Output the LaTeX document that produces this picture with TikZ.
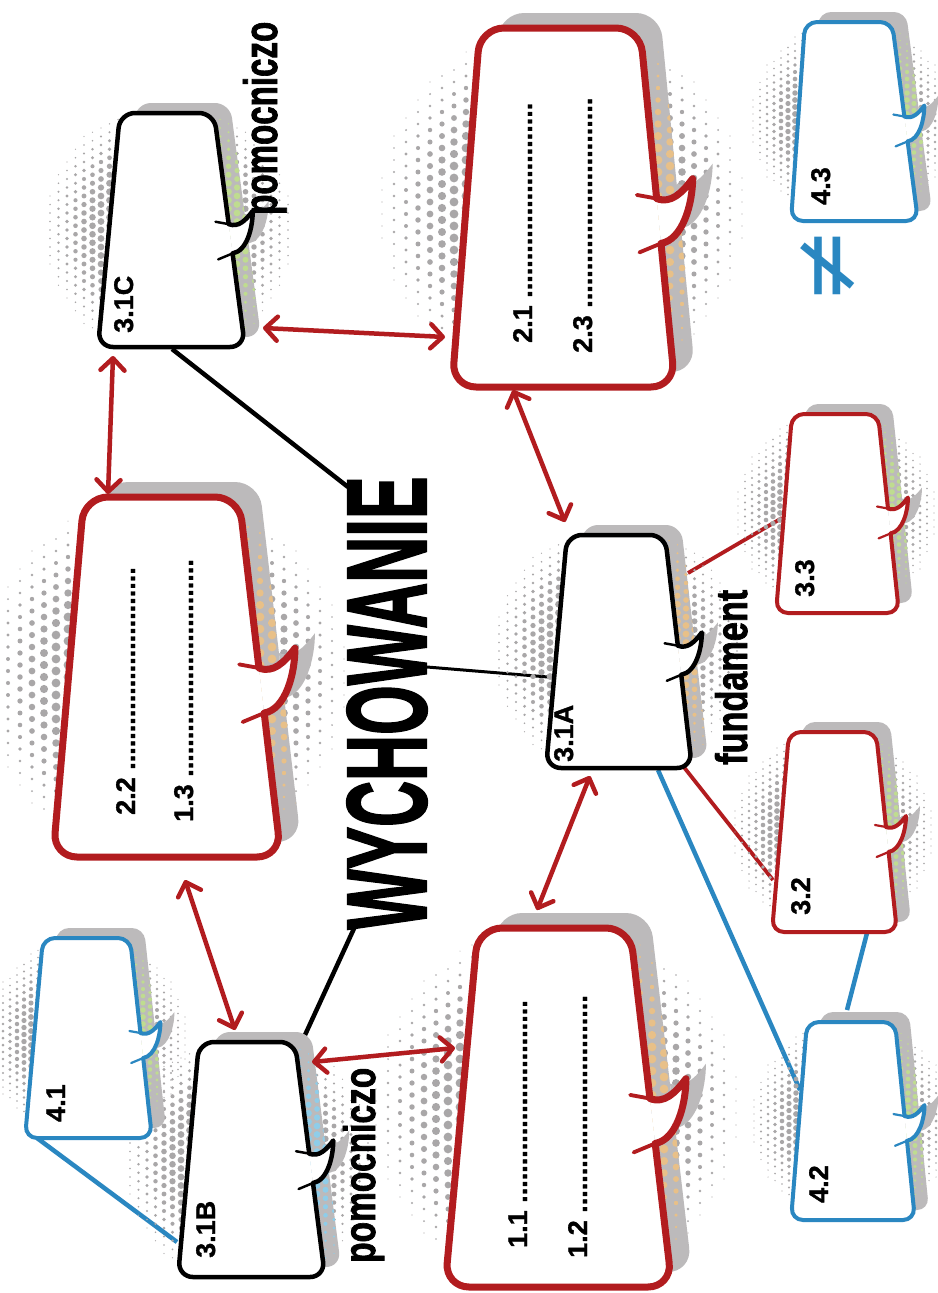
\documentclass[tikz,border=0pt]{standalone}
\usepackage{fontspec}
\usepackage{graphicx}
\setmainfont{Liberation Sans}
\newfontfamily\labfont{Liberation Sans}[FakeBold=1.2]
\newfontfamily\heavyfont{Liberation Sans}[FakeBold=2]
\newfontfamily\symfont{DejaVu Sans}
\usetikzlibrary{calc,arrows.meta}
\definecolor{myred}{HTML}{B21C1F}
\definecolor{myblue}{HTML}{2A87C1}
\definecolor{shadowc}{HTML}{BCBABB}
\definecolor{dotg}{HTML}{A9A7A8}
\definecolor{dotor}{HTML}{E8C088}
\definecolor{dotgr}{HTML}{BFDC90}
\definecolor{dotbl}{HTML}{8FCDE9}

% halftone dot field: cx cy R R0 spacing rmax color ilist skip
\newcommand\halftone[9]{%
  \begin{pgfscope}%
  \pgfsetfillcolor{#7}%
  \foreach \i in {#8}{%
    \foreach \j in {-15,...,15}{%
      \pgfmathsetmacro\htX{#5*\i}%
      \pgfmathsetmacro\htY{#5*\j+#5*0.5*mod(abs(\i),2)}%
      \pgfmathsetmacro\htR{abs(\htX)<#9 ? 0 : min(#6,#6*(#3-veclen(\htX,\htY))/(#3-#4))}%
      \ifdim\htR pt>0.5pt
        \pgfpathcircle{\pgfpointxy{#1+\htX}{#2+\htY}}{\htR pt}%
      \fi
    }%
  }%
  \pgfusepath{fill}%
  \end{pgfscope}%
}
\newcommand\htbig[4]{\halftone{#1}{#2}{192}{115}{12}{4.4}{#3}{#4}{75}}
\newcommand\htmed[4]{\halftone{#1}{#2}{135}{75}{8.5}{3.4}{#3}{#4}{45}}
\newcommand\htsmall[4]{\halftone{#1}{#2}{110}{60}{7}{2.9}{#3}{#4}{38}}

% bubble geometry: name TL TR BR BL scale shadowshift
\newcommand\setbubble[7]{%
  \coordinate (#1-tl) at #2;
  \coordinate (#1-tr) at #3;
  \coordinate (#1-br) at #4;
  \coordinate (#1-bl) at #5;
  \coordinate (#1-u) at ($(#1-tr)!0.475!(#1-br)$);
  \coordinate (#1-l) at ($(#1-tr)!0.6!(#1-br)$);
  \coordinate (#1-tip) at ($(#1-u)+(20*#6,-11*#6)$);
  \coordinate (#1-iu) at ($(#1-u)+(-11*#6,-2*#6)$);
  \coordinate (#1-il) at ($(#1-l)+(-12*#6,5*#6)$);
  \foreach \p in {tl,tr,br,bl,u,l,tip}{\coordinate (#1-s\p) at ($(#1-\p)+#7$);}
}
% name color lw radius scale dotcommand
\newcommand\drawbubble[6]{%
  \fill[shadowc, rounded corners=#4] (#1-stl) -- (#1-str) -- (#1-sbr) -- (#1-sbl) -- cycle;
  \fill[shadowc] (#1-su) .. controls +(8*#5,3*#5) and +(-6*#5,8*#5) .. (#1-stip)
     .. controls +(0,14*#5) and +(12*#5,-2*#5) .. (#1-sl) -- cycle;
  \begin{scope}
    \clip[rounded corners=#4] (#1-stl) -- (#1-str) -- (#1-sbr) -- (#1-sbl) -- cycle;
    #6
  \end{scope}
  \fill[white, rounded corners=#4] (#1-tl) -- (#1-tr) -- (#1-br) -- (#1-bl) -- cycle;
  \fill[white] (#1-u) .. controls +(8*#5,3*#5) and +(-6*#5,8*#5) .. (#1-tip)
     .. controls +(0,14*#5) and +(12*#5,-2*#5) .. (#1-l) -- cycle;
  \draw[#2, line width=#3, rounded corners=#4] (#1-l) -- (#1-br) -- (#1-bl) -- (#1-tl) -- (#1-tr) -- (#1-u);
  \draw[#2, line width=#3, line cap=round, line join=round] (#1-u) .. controls +(8*#5,3*#5) and +(-6*#5,8*#5) .. (#1-tip)
     .. controls +(0,14*#5) and +(12*#5,-2*#5) .. (#1-l);
  \draw[#2, line width=0.55*#3, line cap=round] (#1-u) -- (#1-iu);
  \draw[#2, line width=0.55*#3, line cap=round] (#1-l) -- (#1-il);
}

\begin{document}
\begin{tikzpicture}[x=1pt,y=-1pt,
  lab/.style={rotate=90,anchor=base west,inner sep=0pt,font=\labfont\bfseries\fontsize{27}{27}\selectfont},
  cond/.style={rotate=90,anchor=base west,inner sep=0pt,font=\heavyfont\bfseries},
  dbl/.style={myred,line width=4.5,line cap=round,{Straight Barb[length=12pt,width=24pt,round]}-{Straight Barb[length=12pt,width=24pt,round]}},
  blk/.style={black,line width=4.5},
  blkthin/.style={black,line width=3},
  redln/.style={myred,line width=3.8},
  blueln/.style={myblue,line width=4.5}]
\useasboundingbox (0,0) rectangle (937,1293);
\fill[white] (0,0) rectangle (937,1293);

% geometry
\setbubble{b21}{(480,28)}{(640,28)}{(675,387)}{(452,387)}{1.8}{(20,-15)}
\setbubble{b22}{(84,497)}{(239,497)}{(281,857)}{(53,857)}{1.8}{(20,-15)}
\setbubble{b11}{(478,928)}{(630,928)}{(672,1287)}{(445,1287)}{1.8}{(20,-15)}
\setbubble{bA}{(567,535)}{(665,535)}{(692,768)}{(546,768)}{1.2}{(16,-10)}
\setbubble{bB}{(199,1042)}{(295,1042)}{(325,1277)}{(178,1277)}{1.2}{(16,-10)}
\setbubble{bC}{(120,113)}{(214,113)}{(245,347)}{(98,347)}{1.2}{(16,-10)}
\setbubble{b43}{(805,22)}{(892,22)}{(918,221)}{(791,221)}{1}{(14,-10)}
\setbubble{b33}{(792,414)}{(878,414)}{(899,613)}{(776,613)}{1}{(14,-10)}
\setbubble{b32}{(789,732)}{(876,732)}{(897,932)}{(772,932)}{1}{(14,-10)}
\setbubble{b42}{(807,1022)}{(895,1022)}{(915,1220)}{(791,1220)}{1}{(14,-10)}
\setbubble{b41}{(43,938)}{(130,938)}{(152,1138)}{(25,1138)}{1}{(14,-10)}

% connector end points
\coordinate (k1s) at (172,349); \coordinate (k1e) at (348,487);
\coordinate (k2s) at (427,667); \coordinate (k2e) at (548,677);
\coordinate (k3s) at (357,922); \coordinate (k3e) at (305,1035);
\coordinate (r1s) at (688,573); \coordinate (r1e) at (782,518);
\coordinate (r2s) at (683,766); \coordinate (r2e) at (773,880);
\coordinate (u1s) at (658,770); \coordinate (u1e) at (800,1090);
\coordinate (u2s) at (867,933); \coordinate (u2e) at (847,1010);
\coordinate (u3s) at (37,1138); \coordinate (u3e) at (177,1242);
\coordinate (a1s) at (113,356); \coordinate (a1e) at (108,494);
\coordinate (a2s) at (263,328); \coordinate (a2e) at (445,337);
\coordinate (a3s) at (513,390); \coordinate (a3e) at (565,522);
\coordinate (a4s) at (590,776); \coordinate (a4e) at (537,910);
\coordinate (a5s) at (185,880); \coordinate (a5e) at (235,1030);
\coordinate (a6s) at (312,1062); \coordinate (a6e) at (455,1048);

% plain connectors
\draw[blk] (k1s) -- (k1e);
\draw[blkthin] (k2s) -- (k2e);
\draw[blk] (k3s) -- (k3e);
\draw[redln] (r1s) -- (r1e);
\draw[redln] (r2s) -- (r2e);
\draw[blueln] (u1s) -- (u1e);
\draw[blueln] (u2s) -- (u2e);
\draw[blueln] (u3s) -- (u3e);

% halftone fields
\htbig{562}{208}{dotg}{-15,...,15}
\htbig{164}{677}{dotg}{-15,...,15}
\htbig{556}{1107}{dotg}{-15,...,15}
\htmed{618}{651}{dotg}{-16,...,16}
\htmed{249}{1160}{dotg}{-16,...,16}
\htmed{169}{230}{dotg}{-16,...,16}
\htsmall{851}{121}{dotg}{-15,...,15}
\htsmall{836}{513}{dotg}{-15,...,15}
\htsmall{833}{832}{dotg}{-15,...,15}
\htsmall{852}{1121}{dotg}{-15,...,15}
\htsmall{87}{1038}{dotg}{-15,...,15}

% bubbles
\drawbubble{b21}{myred}{7}{24}{1.8}{\htbig{562}{208}{dotor}{6,...,12}}
\drawbubble{b22}{myred}{7}{24}{1.8}{\htbig{164}{677}{dotor}{6,...,12}}
\drawbubble{b11}{myred}{7}{24}{1.8}{\htbig{556}{1107}{dotor}{6,...,12}}
\drawbubble{bA}{black}{4.5}{15}{1.2}{\htmed{618}{651}{dotor}{5,...,10}}
\drawbubble{bB}{black}{4.5}{15}{1.2}{\htmed{249}{1160}{dotbl}{5,...,10}}
\drawbubble{bC}{black}{4.5}{15}{1.2}{\htmed{169}{230}{dotgr}{5,...,10}}
\drawbubble{b43}{myblue}{4}{12}{1}{\htsmall{851}{121}{dotgr}{5,...,10}}
\drawbubble{b33}{myred}{4}{12}{1}{\htsmall{836}{513}{dotgr}{5,...,10}}
\drawbubble{b32}{myred}{4}{12}{1}{\htsmall{833}{832}{dotgr}{5,...,10}}
\drawbubble{b42}{myblue}{4}{12}{1}{\htsmall{852}{1121}{dotgr}{5,...,10}}
\drawbubble{b41}{myblue}{4}{12}{1}{\htsmall{87}{1038}{dotgr}{5,...,10}}

% double arrows
\draw[dbl] (a1s) -- (a1e);
\draw[dbl] (a2s) -- (a2e);
\draw[dbl] (a3s) -- (a3e);
\draw[dbl] (a4s) -- (a4e);
\draw[dbl] (a5s) -- (a5e);
\draw[dbl] (a6s) -- (a6e);

% texts
\node[rotate=90,inner sep=0pt] (title) at (387,703) {\resizebox{453pt}{79pt}{\heavyfont\bfseries WYCHOWANIE}};
\node[cond] (pom1) at (277,215) {\resizebox{193pt}{34pt}{pomocniczo}};
\node[cond] (pom2) at (375,1263) {\resizebox{195pt}{32pt}{pomocniczo}};
\node[cond] (fund) at (747,765) {\resizebox{175pt}{32pt}{fundament}};

\node[lab] (l3c) at (133,333) {3.1C};
\node[lab] (l3a) at (573,762) {3.1A};
\node[lab] (l3b) at (215,1258) {3.1B};
\node[lab] (l43) at (830,205) {4.3};
\node[lab] (l33) at (814,597) {3.3};
\node[lab] (l32) at (810,915) {3.2};
\node[lab] (l42) at (828,1203) {4.2};
\node[lab] (l41) at (65,1122) {4.1};

\node[lab] (l21) at (532,343) {2.1 ..........................};
\node[lab] (l23) at (592,353) {2.3 ............................};
\node[lab] (l22) at (135,815) {2.2 ...........................};
\node[lab] (l13) at (193,822) {1.3 .............................};
\node[lab] (l11) at (527,1248) {1.1 ...........................};
\node[lab] (l12) at (587,1258) {1.2 .............................};

\node[rotate=90,inner sep=0pt,text=myblue,font=\symfont\fontsize{92}{92}\selectfont] (neq) at (829,266) {≠};
\end{tikzpicture}
\end{document}
